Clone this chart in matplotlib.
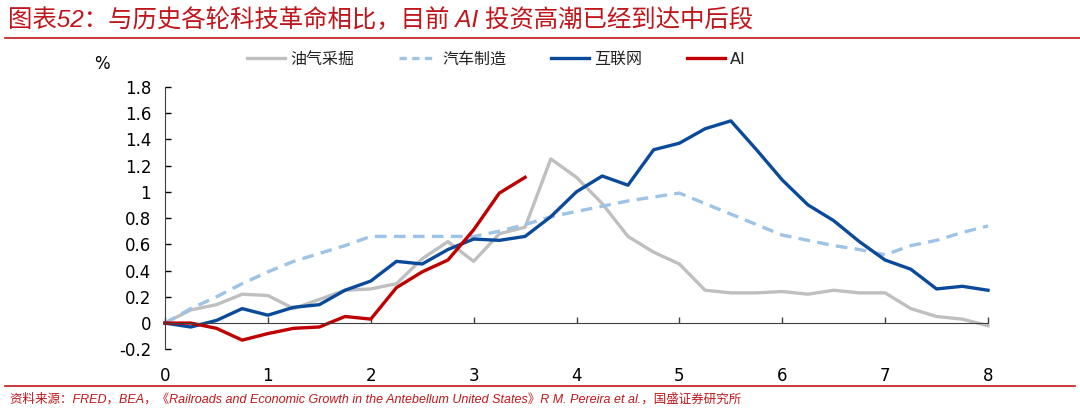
import numpy as np
import matplotlib.pyplot as plt
from matplotlib.ticker import FuncFormatter
from matplotlib.lines import Line2D

plt.rcParams['font.family'] = ['DejaVu Sans', 'Noto Sans CJK SC']

# x axis: years since start of each wave, quarterly
x_oil = np.arange(0, 8.01, 0.25)
oil = [0, 0.10, 0.14, 0.22, 0.21, 0.11, 0.18, 0.25, 0.26, 0.30, 0.49, 0.62, 0.47,
       0.68, 0.73, 1.25, 1.11, 0.91, 0.66, 0.54, 0.45, 0.25, 0.23, 0.23, 0.24,
       0.22, 0.25, 0.23, 0.23, 0.11, 0.05, 0.03, -0.02]
auto = [0, 0.11, 0.20, 0.30, 0.39, 0.47, 0.53, 0.59, 0.66, 0.66, 0.66, 0.66, 0.66,
        0.70, 0.75, 0.81, 0.85, 0.89, 0.93, 0.96, 0.99, 0.91, 0.83, 0.75, 0.67,
        0.63, 0.59, 0.56, 0.52, 0.59, 0.63, 0.69, 0.74]
internet = [0, -0.03, 0.02, 0.11, 0.06, 0.12, 0.14, 0.25, 0.32, 0.47, 0.45, 0.56,
            0.64, 0.63, 0.66, 0.81, 1.00, 1.12, 1.05, 1.32, 1.37, 1.48, 1.54, 1.32,
            1.09, 0.90, 0.78, 0.62, 0.48, 0.41, 0.26, 0.28, 0.25]
x_ai = np.arange(0, 3.51, 0.25)
ai = [0, 0.0, -0.04, -0.13, -0.08, -0.04, -0.03, 0.05, 0.03, 0.27, 0.39, 0.48,
      0.71, 0.99, 1.11]

labels = ['油气采掘', '汽车制造', '互联网', 'AI']
colors = ['#BFBFBF', '#9DC3E6', '#0A4A9A', '#C00000']
red = '#C0161B'

fig = plt.figure(figsize=(10.8, 4.17), dpi=100)
ax = fig.add_axes([0.1528, 0.1623, 0.9148 - 0.1528, 0.792 - 0.1623])

lw = 2.4
ax.plot(x_oil, oil, color=colors[0], lw=lw, clip_on=False)
ax.plot(x_oil, auto, color=colors[1], lw=lw, ls=(0, (3.5, 2.2)), clip_on=False)
ax.plot(x_oil, internet, color=colors[2], lw=lw, clip_on=False)
ax.plot(x_ai, ai, color=colors[3], lw=lw, clip_on=False)

ax.set_xlim(0, 8)
ax.set_ylim(-0.2, 1.8)
ax.set_yticks(np.arange(-0.2, 1.81, 0.2))
ax.yaxis.set_major_formatter(FuncFormatter(lambda v, p: '{:g}'.format(round(v, 1))))
ax.tick_params(axis='y', direction='in', length=4, width=1, labelsize=12, pad=10, colors='#000000')

for s in ['top', 'right']:
    ax.spines[s].set_visible(False)
ax.spines['left'].set_color('#404040')
ax.spines['bottom'].set_position(('data', 0))
ax.spines['bottom'].set_color('#404040')
ax.set_xticks(range(0, 9))
ax.tick_params(axis='x', direction='in', length=4.5, width=1, labelbottom=False, color='#404040')

sec = ax.secondary_xaxis('bottom')
sec.set_xticks(range(0, 9))
sec.spines['bottom'].set_visible(False)
sec.tick_params(axis='x', length=0, labelsize=12, pad=13)

fig.text(102 / 1080, 1 - 64 / 417, '%', fontsize=12, ha='center', va='center')

# legend
handles = [Line2D([], [], color=colors[0], lw=lw),
           Line2D([], [], color=colors[1], lw=lw, ls=(0, (2.2, 1.6))),
           Line2D([], [], color=colors[2], lw=lw),
           Line2D([], [], color=colors[3], lw=lw)]
leg = fig.legend(handles, labels, loc='center left', bbox_to_anchor=(247 / 1080, 1 - 59 / 417),
                 ncol=4, frameon=False, fontsize=11.5, handlelength=2.4, handletextpad=0.3,
                 columnspacing=2.8, borderpad=0, borderaxespad=0)
for t in leg.get_texts():
    t.set_color('#222222')

# title and source
fig.text(8 / 1080, 1 - 20 / 417, '图表52：与历史各轮科技革命相比，目前 AI 投资高潮已经到达中后段',
         fontsize=17.6, color=red, ha='left', va='center', style='italic',
         family=['Liberation Sans', 'Noto Sans CJK SC'])
fig.add_artist(Line2D([5 / 1080, 1], [1 - 38 / 417] * 2, color=red, lw=1.2))
fig.add_artist(Line2D([5 / 1080, 1075 / 1080], [1 - 386 / 417] * 2, color=red, lw=1.2))
fig.text(10 / 1080, 1 - 399 / 417,
         '资料来源：FRED，BEA，《Railroads and Economic Growth in the Antebellum United States》R M. Pereira et al.，国盛证券研究所',
         fontsize=9, color=red, ha='left', va='center', style='italic',
         family=['Liberation Sans', 'Noto Sans CJK SC'])

fig.savefig('out.png', dpi=100, facecolor='white')
